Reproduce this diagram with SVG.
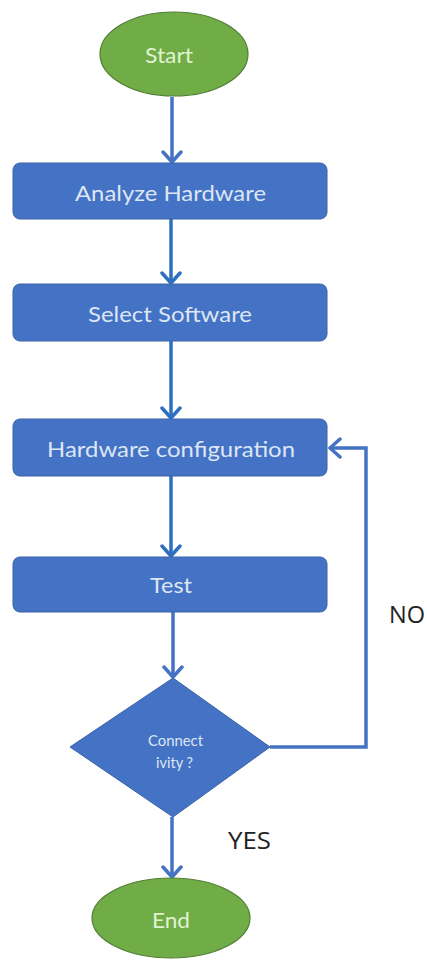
<svg xmlns="http://www.w3.org/2000/svg" width="427" height="960" viewBox="0 0 427 960">
<defs>
<style>
.box{fill:#4472c4;stroke:#3a62a8;stroke-width:1}
.term{fill:#70ad47;stroke:#4f7d34;stroke-width:1.2}
.t{font-family:Lato,"Open Sans",sans-serif;fill:#dde6f4;text-anchor:middle;dominant-baseline:central;font-size:22px}
.tg{font-family:Lato,"Open Sans",sans-serif;fill:#e2f3d2;text-anchor:middle;dominant-baseline:central;font-size:22px}
.lbl{font-family:"Open Sans",Lato,sans-serif;fill:#222;font-size:23px;dominant-baseline:central}
.c{fill:none;stroke:#4472c4;stroke-width:3.5}
.c2{fill:none;stroke:#2e6fbf;stroke-width:3.5}
</style>
<marker id="ah1" markerUnits="userSpaceOnUse" markerWidth="24" markerHeight="24" viewBox="-12 -12 24 24" refX="0" refY="0" orient="auto">
<path d="M-10,-9 L0,0 L-10,9" fill="none" stroke="#4472c4" stroke-width="3.5" stroke-linecap="round" stroke-linejoin="round"/>
</marker>
<marker id="ah2" markerUnits="userSpaceOnUse" markerWidth="24" markerHeight="24" viewBox="-12 -12 24 24" refX="0" refY="0" orient="auto">
<path d="M-10,-9 L0,0 L-10,9" fill="none" stroke="#2e6fbf" stroke-width="3.5" stroke-linecap="round" stroke-linejoin="round"/>
</marker>
</defs>
<rect width="427" height="960" fill="#ffffff"/>
<g id="connectors">
<line class="c" x1="172" y1="97" x2="172" y2="162" marker-end="url(#ah1)"/>
<line class="c2" x1="171" y1="219" x2="171" y2="283" marker-end="url(#ah2)"/>
<line class="c2" x1="171" y1="341" x2="171" y2="418" marker-end="url(#ah2)"/>
<line class="c2" x1="171" y1="476" x2="171" y2="556" marker-end="url(#ah2)"/>
<line class="c" x1="173" y1="612" x2="173" y2="677" marker-end="url(#ah1)"/>
<line class="c" x1="172" y1="817" x2="172" y2="877" marker-end="url(#ah1)"/>
<polyline class="c" points="270,747 366,747 366,448 330,448" marker-end="url(#ah1)"/>
</g>
<g id="start">
<ellipse class="term" cx="174" cy="54" rx="74" ry="42"/>
<text class="tg" x="169" y="54" textLength="48" lengthAdjust="spacingAndGlyphs">Start</text>
</g>
<g id="analyze">
<rect class="box" x="13" y="163" width="314" height="56" rx="7"/>
<text class="t" x="170.5" y="192" textLength="191" lengthAdjust="spacingAndGlyphs">Analyze Hardware</text>
</g>
<g id="select">
<rect class="box" x="13" y="284" width="314" height="57" rx="7"/>
<text class="t" x="170" y="313" textLength="164" lengthAdjust="spacingAndGlyphs">Select Software</text>
</g>
<g id="hwconfig">
<rect class="box" x="13" y="419" width="314" height="57" rx="7"/>
<text class="t" x="171" y="448" textLength="248" lengthAdjust="spacingAndGlyphs">Hardware configuration</text>
</g>
<g id="test">
<rect class="box" x="13" y="557" width="314" height="55" rx="7"/>
<text class="t" x="171" y="584" textLength="42" lengthAdjust="spacingAndGlyphs">Test</text>
</g>
<g id="decision">
<polygon class="box" points="173,678 270,747 173,817 70,747"/>
<text class="t" x="175.5" y="740" style="font-size:14.5px" textLength="55" lengthAdjust="spacingAndGlyphs">Connect</text>
<text class="t" x="174.5" y="762" style="font-size:14.5px" textLength="37" lengthAdjust="spacingAndGlyphs">ivity ?</text>
</g>
<g id="end">
<ellipse class="term" cx="171" cy="918" rx="79" ry="40"/>
<text class="tg" x="171" y="919" textLength="38" lengthAdjust="spacingAndGlyphs">End</text>
</g>
<text class="lbl" x="389" y="614" textLength="36" lengthAdjust="spacingAndGlyphs">NO</text>
<text class="lbl" x="228" y="840" textLength="43" lengthAdjust="spacingAndGlyphs">YES</text>
</svg>
